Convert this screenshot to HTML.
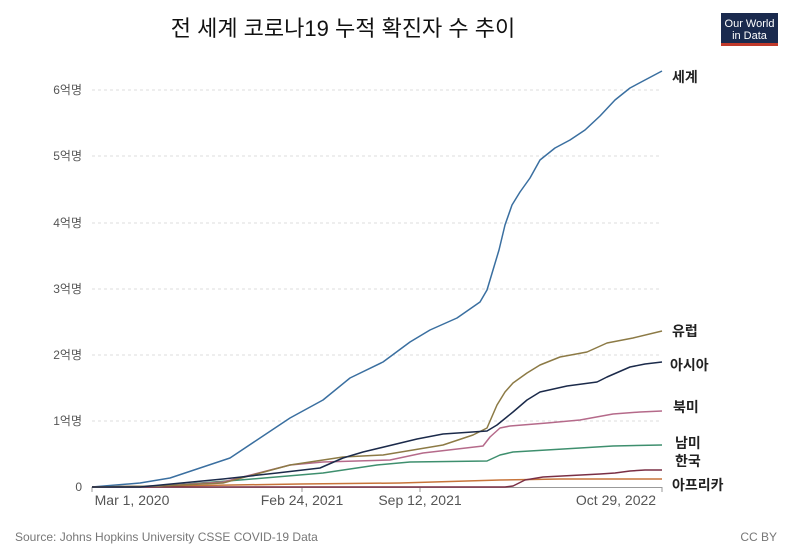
<!DOCTYPE html>
<html><head><meta charset="utf-8"><style>
body{margin:0;background:#fff;}
svg text{font-family:"Liberation Sans","Noto Sans CJK KR",sans-serif;}
</style></head><body>
<svg width="800" height="545" viewBox="0 0 800 545" xmlns="http://www.w3.org/2000/svg">
<rect width="800" height="545" fill="#fff"/>
<text x="343" y="36" font-size="22" text-anchor="middle" fill="#111">전 세계 코로나19 누적 확진자 수 추이</text>
<rect x="721" y="13" width="57" height="32" fill="#1a2a4e"/>
<rect x="721" y="43" width="57" height="3" fill="#c0392b"/>
<text x="749.5" y="27" font-size="11" fill="#fff" text-anchor="middle">Our World</text>
<text x="749.5" y="39" font-size="11" fill="#fff" text-anchor="middle">in Data</text>
<g stroke="#ddd" stroke-dasharray="3,3" stroke-width="1">
<line x1="92" x2="662" y1="90" y2="90"/><line x1="92" x2="662" y1="156" y2="156"/>
<line x1="92" x2="662" y1="223" y2="223"/><line x1="92" x2="662" y1="289" y2="289"/>
<line x1="92" x2="662" y1="355" y2="355"/><line x1="92" x2="662" y1="421" y2="421"/>
</g>
<line x1="92" x2="662" y1="487.5" y2="487.5" stroke="#999"/>
<g stroke="#999"><line x1="92" x2="92" y1="487" y2="492"/><line x1="302" x2="302" y1="487" y2="492"/><line x1="420" x2="420" y1="487" y2="492"/><line x1="662" x2="662" y1="487" y2="492"/></g>
<g font-size="12" fill="#555" text-anchor="end">
<text x="82" y="94">6억명</text><text x="82" y="160">5억명</text><text x="82" y="227">4억명</text>
<text x="82" y="293">3억명</text><text x="82" y="359">2억명</text><text x="82" y="425">1억명</text><text x="82" y="491">0</text>
</g>
<g font-size="14" fill="#555" text-anchor="middle">
<text x="132" y="505">Mar 1, 2020</text><text x="302" y="505">Feb 24, 2021</text>
<text x="420" y="505">Sep 12, 2021</text><text x="616" y="505">Oct 29, 2022</text>
</g>
<g fill="none" stroke-width="1.5" stroke-linejoin="round">
<polyline stroke="#3a6fa0" points="92,487 140,483 170,478 200,468 230,458 257,440 290,418 323,400 350,378 383,362 410,342 430,330 457,318 480,302 487,290 493,270 499,250 505,225 512,205 520,192 530,178 540,160 555,148 570,140 585,130 600,116 615,100 630,88 645,80 662,71"/>
<polyline stroke="#c7743a" points="92,487 200,485.5 300,484 400,483 500,480 560,479 662,479"/>
<polyline stroke="#7a2f45" points="92,487 300,487 400,487 505,487 513,486 525,480 543,477 600,474 615,473 630,471 645,470 662,470"/>
<polyline stroke="#3e8f6e" points="92,487 160,486 240,480 323,473 377,465 410,462 487,461 500,455 513,452 580,448 613,446 662,445"/>
<polyline stroke="#b56a8a" points="92,487 160,486 223,482 290,465 323,462 390,460 423,453 483,446 490,437 500,428 510,426 547,423 580,420 613,414 640,412 662,411"/>
<polyline stroke="#8c7a45" points="92,487 160,486 223,483 290,465 343,457 383,455 443,445 473,435 487,428 497,405 505,392 513,383 527,373 540,365 560,357 587,352 607,343 633,338 662,331"/>
<polyline stroke="#1b2a4a" points="92,487 140,487 223,479 277,473 320,468 343,458 363,452 417,439 443,434 487,431 497,425 513,412 527,400 540,392 567,386 597,382 607,377 630,367 645,364 662,362"/>
</g>
<g font-size="14" font-weight="bold" fill="#222">
<text x="672" y="82">세계</text><text x="672" y="336">유럽</text><text x="670" y="370">아시아</text>
<text x="673" y="412">북미</text><text x="675" y="448">남미</text><text x="675" y="466">한국</text>
<text x="672" y="490">아프리카</text>
</g>
<text x="15" y="541" font-size="12" fill="#777">Source: Johns Hopkins University CSSE COVID-19 Data</text>
<text x="777" y="541" font-size="12" fill="#777" text-anchor="end">CC BY</text>
</svg>
</body></html>
